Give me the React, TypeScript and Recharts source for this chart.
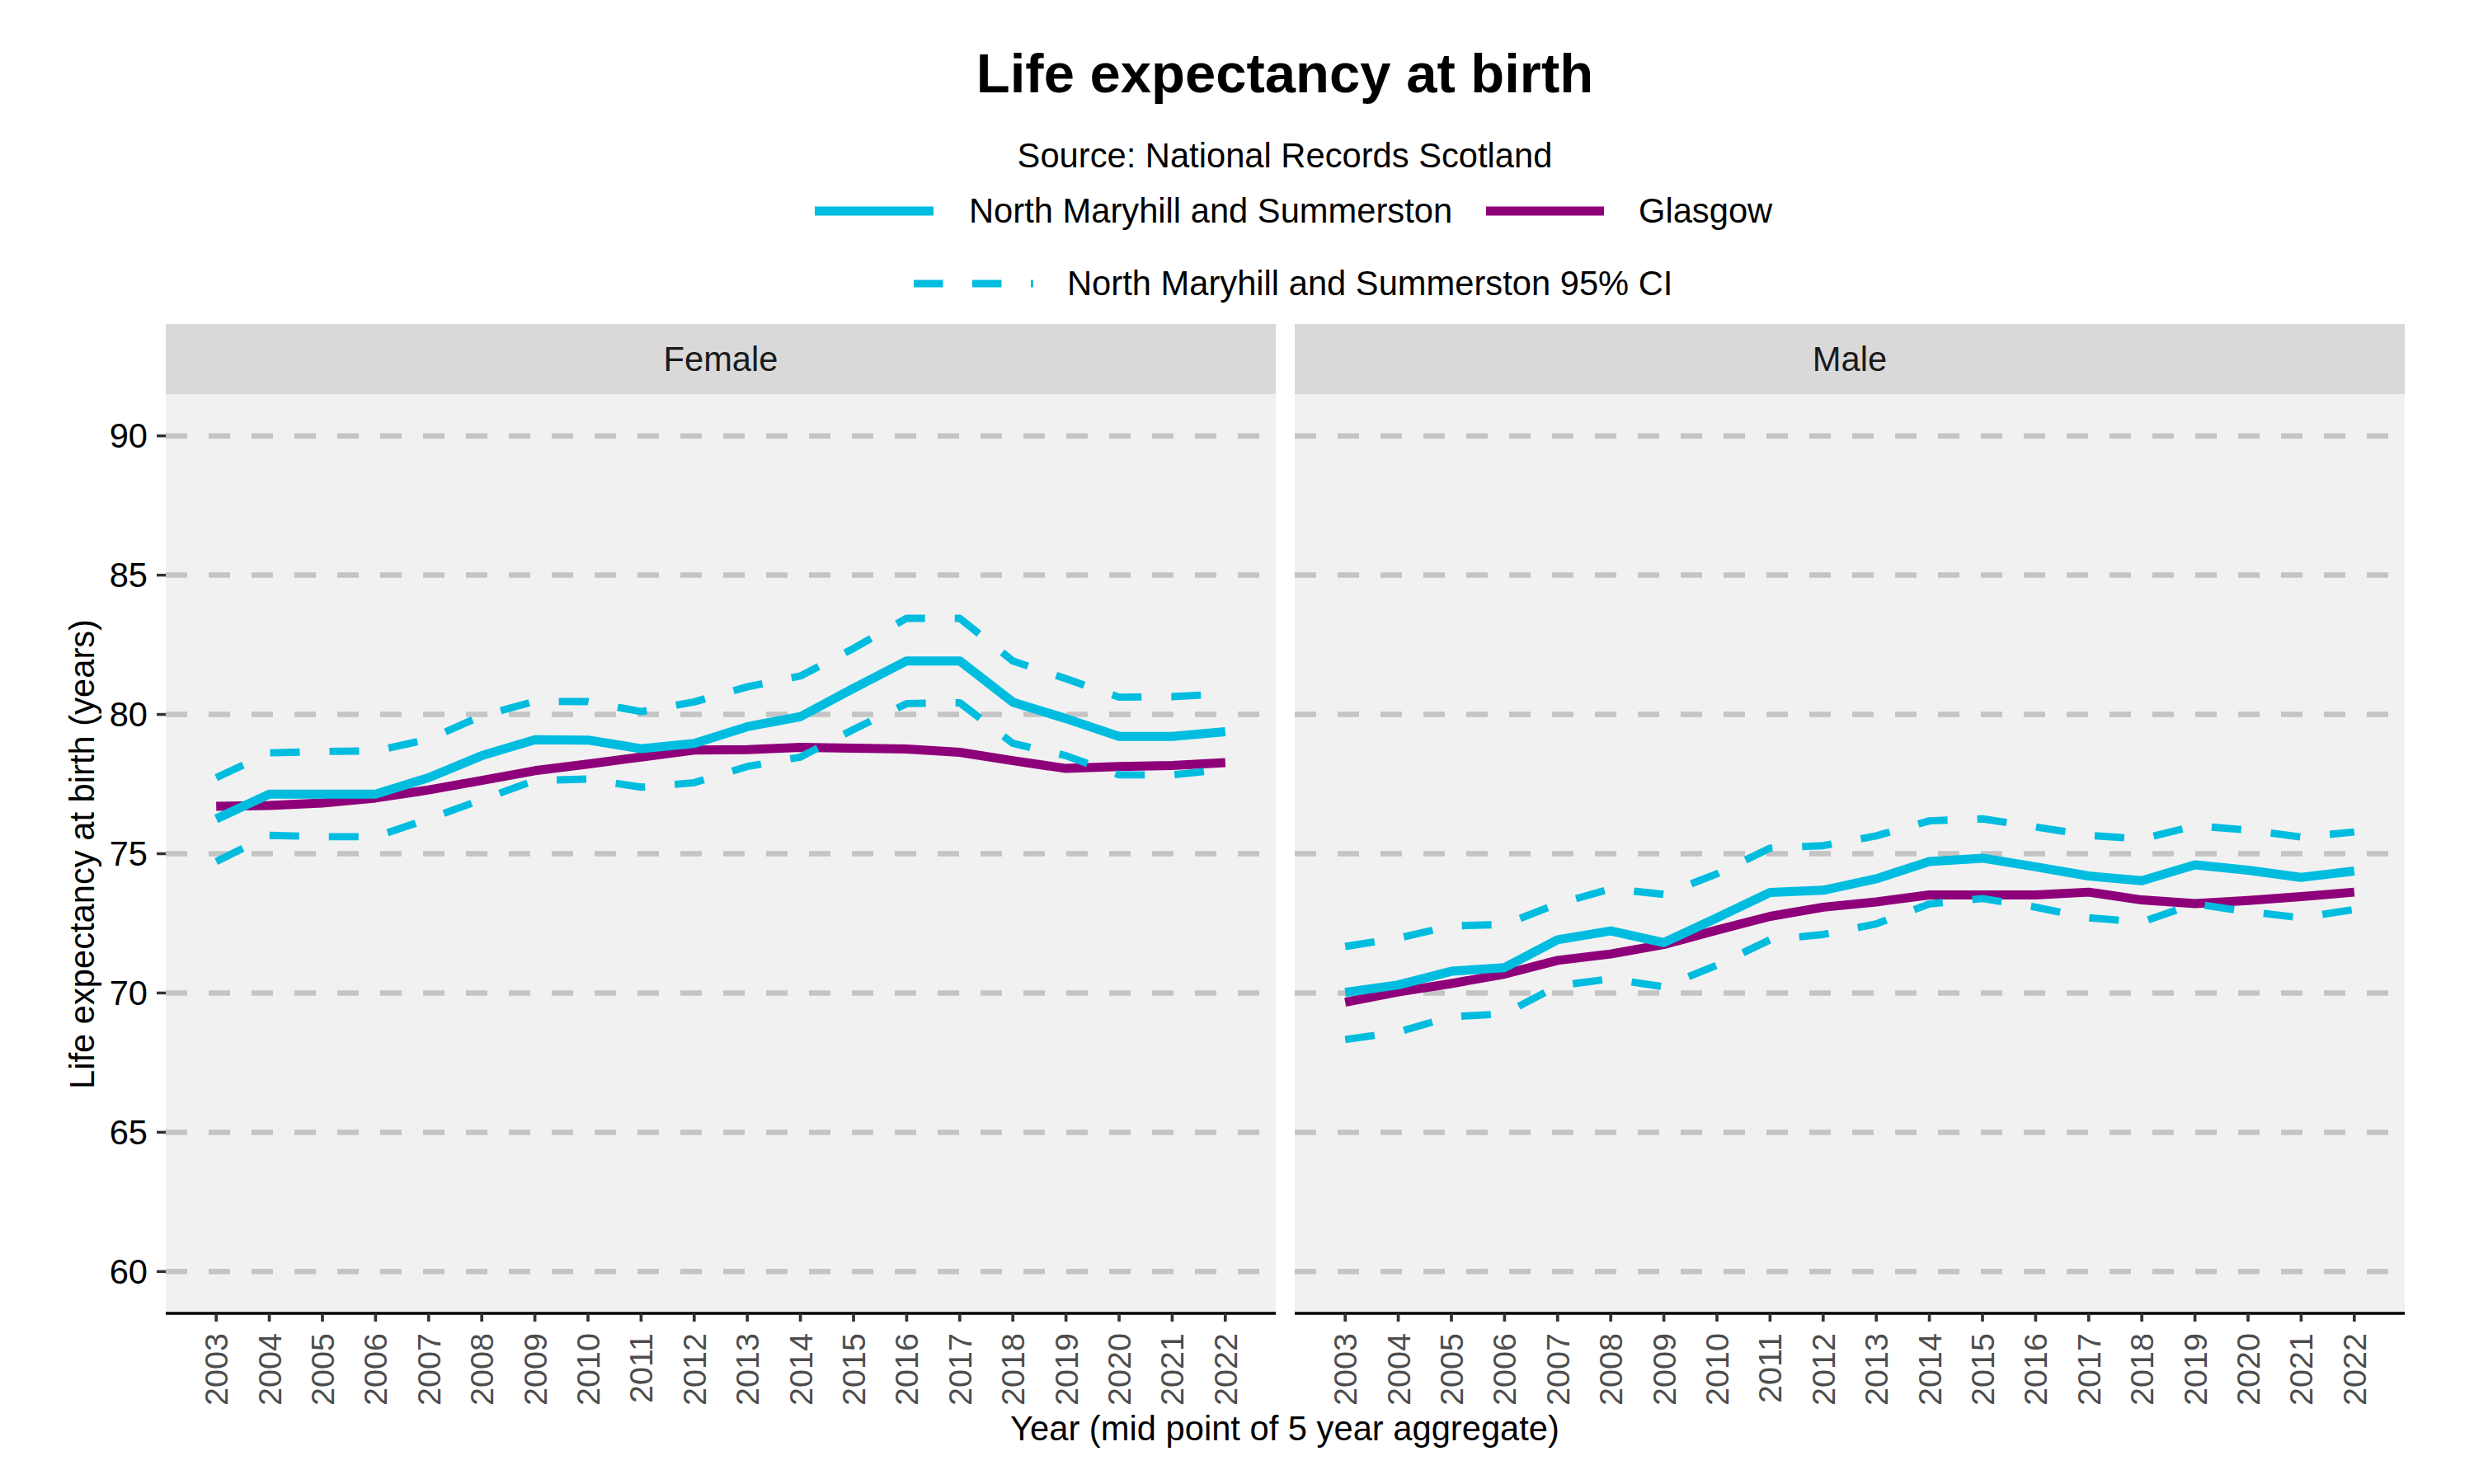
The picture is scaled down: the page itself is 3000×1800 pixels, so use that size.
import { LineChart, Line, XAxis, YAxis, CartesianGrid } from 'recharts';

const YEARS = [
  2003, 2004, 2005, 2006, 2007, 2008, 2009, 2010, 2011, 2012,
  2013, 2014, 2015, 2016, 2017, 2018, 2019, 2020, 2021, 2022,
];
const Y_TICKS = [60, 65, 70, 75, 80, 85, 90];

// Female
const FEMALE_AREA = [76.25, 77.14, 77.14, 77.14, 77.73, 78.52, 79.09, 79.08, 78.77, 78.96, 79.56, 79.92, 80.94, 81.92, 81.92, 80.44, 79.85, 79.21, 79.21, 79.38];
const FEMALE_GLASGOW = [76.7, 76.73, 76.82, 77.0, 77.29, 77.63, 77.98, 78.22, 78.47, 78.72, 78.74, 78.82, 78.79, 78.76, 78.64, 78.34, 78.06, 78.13, 78.17, 78.27];
const FEMALE_UPPER = [77.73, 78.62, 78.67, 78.69, 79.11, 79.95, 80.47, 80.46, 80.1, 80.45, 80.99, 81.38, 82.37, 83.45, 83.45, 81.92, 81.28, 80.62, 80.64, 80.74];
const FEMALE_LOWER = [74.72, 75.66, 75.61, 75.61, 76.25, 76.94, 77.63, 77.68, 77.39, 77.55, 78.13, 78.47, 79.46, 80.39, 80.42, 78.96, 78.52, 77.83, 77.83, 78.03];

// Male
const MALE_AREA = [70.02, 70.29, 70.78, 70.91, 71.91, 72.23, 71.81, 72.7, 73.61, 73.69, 74.1, 74.72, 74.84, 74.53, 74.2, 74.03, 74.6, 74.41, 74.15, 74.38];
const MALE_GLASGOW = [69.67, 70.04, 70.34, 70.68, 71.17, 71.4, 71.74, 72.26, 72.75, 73.08, 73.27, 73.52, 73.52, 73.52, 73.62, 73.34, 73.21, 73.32, 73.46, 73.62];
const MALE_UPPER = [71.67, 71.97, 72.41, 72.46, 73.2, 73.74, 73.54, 74.28, 75.2, 75.29, 75.64, 76.18, 76.25, 75.96, 75.66, 75.53, 76.0, 75.85, 75.6, 75.78];
const MALE_LOWER = [68.33, 68.6, 69.15, 69.25, 70.26, 70.51, 70.22, 71.0, 71.91, 72.1, 72.48, 73.2, 73.39, 73.08, 72.7, 72.55, 73.2, 72.92, 72.7, 73.0];

const CYAN = '#00BDE0';
const PURPLE = '#8E0079';
const FONT = '"Liberation Sans", Arial, Helvetica, sans-serif';

const PANEL_TOP = 478;
const PANEL_H = 1115;
const XAXIS_H = 120;

function buildRows(area: number[], glasgow: number[], upper: number[], lower: number[]) {
  return YEARS.map((year, i) => ({
    year,
    area: area[i],
    glasgow: glasgow[i],
    upper: upper[i],
    lower: lower[i],
  }));
}

const femaleRows = buildRows(FEMALE_AREA, FEMALE_GLASGOW, FEMALE_UPPER, FEMALE_LOWER);
const maleRows = buildRows(MALE_AREA, MALE_GLASGOW, MALE_UPPER, MALE_LOWER);

function YearTick(props: any) {
  const { x, y, payload } = props;
  const ty = y + 14;
  return (
    <text
      x={x}
      y={ty}
      transform={`rotate(-90 ${x} ${ty})`}
      textAnchor="end"
      dominantBaseline="central"
      fontSize={39.6}
      fill="#4d4d4d"
    >
      {payload.value}
    </text>
  );
}

interface PanelProps {
  rows: ReturnType<typeof buildRows>;
  left: number;
  width: number;
  showY: boolean;
}

function Panel({ rows, left, width, showY }: PanelProps) {
  return (
    <div style={{ position: 'absolute', left, top: PANEL_TOP }}>
      <LineChart
        width={width}
        height={PANEL_H + XAXIS_H}
        data={rows}
        margin={{ top: 0, right: 0, bottom: 0, left: 0 }}
      >
        <CartesianGrid
          vertical={false}
          syncWithTicks
          fill="#f1f1f1"
          fillOpacity={1}
          stroke="#c4c4c4"
          strokeWidth={6.5}
          strokeDasharray="26 26"
        />
        <XAxis
          type="number"
          dataKey="year"
          domain={[2002.05, 2022.95]}
          ticks={YEARS}
          interval={0}
          allowDataOverflow
          height={XAXIS_H}
          tickSize={10}
          tickMargin={0}
          tick={<YearTick />}
          tickLine={{ stroke: '#333333', strokeWidth: 3.7 }}
          axisLine={{ stroke: '#000000', strokeWidth: 3.7 }}
        />
        <YAxis
          type="number"
          domain={[58.5, 91.5]}
          ticks={Y_TICKS}
          interval={0}
          allowDataOverflow
          hide={!showY}
          width={showY ? 201 : 0}
          tickSize={11}
          tickMargin={11}
          axisLine={false}
          tickLine={{ stroke: '#333333', strokeWidth: 3.5 }}
          tick={{ fill: '#000000', fontSize: 41.7 }}
        />
        <Line
          type="linear"
          dataKey="glasgow"
          stroke={PURPLE}
          strokeWidth={11}
          strokeLinejoin="round"
          dot={false}
          isAnimationActive={false}
        />
        <Line
          type="linear"
          dataKey="area"
          stroke={CYAN}
          strokeWidth={11}
          strokeLinejoin="round"
          dot={false}
          isAnimationActive={false}
        />
        <Line
          type="linear"
          dataKey="upper"
          stroke={CYAN}
          strokeWidth={8.9}
          strokeDasharray="36 36"
          strokeLinejoin="round"
          dot={false}
          isAnimationActive={false}
        />
        <Line
          type="linear"
          dataKey="lower"
          stroke={CYAN}
          strokeWidth={8.9}
          strokeDasharray="36 36"
          strokeLinejoin="round"
          dot={false}
          isAnimationActive={false}
        />
      </LineChart>
    </div>
  );
}

export default function App() {
  return (
    <div
      style={{
        position: 'absolute',
        left: 0,
        top: 0,
        width: 3000,
        height: 1800,
        background: '#ffffff',
        fontFamily: FONT,
      }}
    >
      <Panel rows={femaleRows} left={0} width={1547} showY />
      <Panel rows={maleRows} left={1570} width={1346} showY={false} />

      <svg
        width={3000}
        height={1800}
        style={{ position: 'absolute', left: 0, top: 0, pointerEvents: 'none' }}
        fontFamily={FONT}
      >
        <text x={1558} y={112} textAnchor="middle" fontSize={67} fontWeight="bold" fill="#000">
          Life expectancy at birth
        </text>
        <text x={1558} y={203} textAnchor="middle" fontSize={41.7} fill="#000">
          Source: National Records Scotland
        </text>

        {/* legend */}
        <line x1={988} y1={256} x2={1132} y2={256} stroke={CYAN} strokeWidth={11} />
        <text x={1175} y={270} fontSize={41.7} fill="#000">North Maryhill and Summerston</text>
        <line x1={1802} y1={256} x2={1945} y2={256} stroke={PURPLE} strokeWidth={11} />
        <text x={1987} y={270} fontSize={41.7} fill="#000">Glasgow</text>
        <line x1={1108} y1={344} x2={1253} y2={344} stroke={CYAN} strokeWidth={8.9} strokeDasharray="35.5 35.5" />
        <text x={1294} y={358} fontSize={41.7} fill="#000">North Maryhill and Summerston 95% CI</text>

        {/* facet strips */}
        <rect x={201} y={393} width={1346} height={85} fill="#d9d9d9" />
        <rect x={1570} y={393} width={1346} height={85} fill="#d9d9d9" />
        <text x={874} y={450} textAnchor="middle" fontSize={41.7} fill="#1a1a1a">Female</text>
        <text x={2243} y={450} textAnchor="middle" fontSize={41.7} fill="#1a1a1a">Male</text>

        {/* axis titles */}
        <text x={1558} y={1747} textAnchor="middle" fontSize={41.7} fill="#000">
          Year (mid point of 5 year aggregate)
        </text>
        <text
          x={114}
          y={1036}
          textAnchor="middle"
          fontSize={41.7}
          fill="#000"
          transform="rotate(-90 114 1036)"
        >
          Life expectancy at birth (years)
        </text>
      </svg>
    </div>
  );
}
